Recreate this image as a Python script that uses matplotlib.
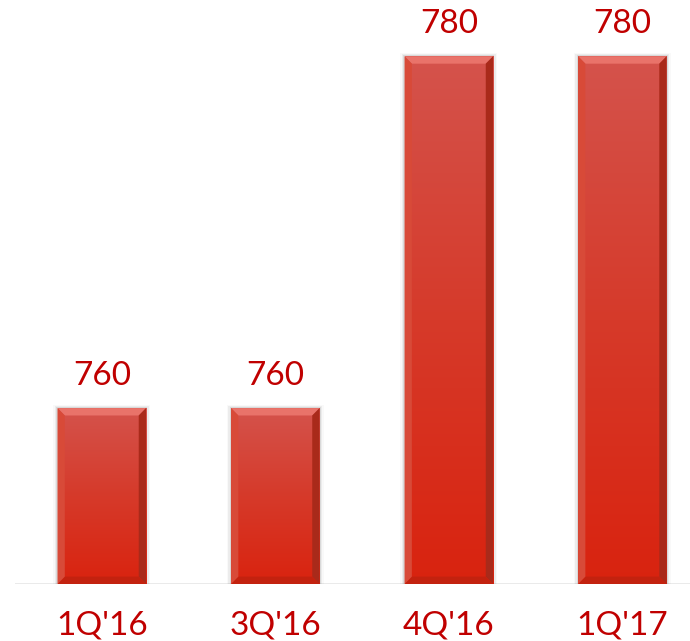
import numpy as np
import matplotlib.pyplot as plt
from matplotlib.patches import Polygon, Rectangle
from matplotlib.colors import LinearSegmentedColormap

categories = ["1Q'16", "3Q'16", "4Q'16", "1Q'17"]
values = [760, 760, 780, 780]

base = 750
txt_color = "#C00000"
plt.rcParams['font.family'] = ['Lato', 'DejaVu Sans']

fig = plt.figure(figsize=(6.9, 6.41), dpi=100)
ax = fig.add_axes([15/690, 57/641, 675/690, 584/641])
ax.set_xlim(-0.5, 3.39)
ax.set_ylim(base, 783.2)
ax.axis('off')

# light baseline
ax.axhline(base, color="#e6e6e6", lw=1.2, zorder=0)

x = np.arange(len(categories))
width = 0.51
bars = ax.bar(x, [v - base for v in values], width=width, bottom=base,
              color="none", edgecolor="none", zorder=2)

grad = LinearSegmentedColormap.from_list("g", ["#d9230f", "#d63a2a", "#d4534c"])
bx = 0.042   # bevel size in x (data units)
by = 0.42    # bevel size in y

for b in bars:
    x0, y0 = b.get_x(), b.get_y()
    w, h = b.get_width(), b.get_height()
    x1, y1 = x0 + w, y0 + h
    # soft shadow
    for k, a in enumerate([0.08, 0.05, 0.025]):
        dx = 0.008 * (k + 1)
        dy = 0.06 * (k + 1)
        ax.add_patch(Rectangle((x0 - dx, y0 - dy), w + 2 * dx, h + 2 * dy,
                               color="black", alpha=a, lw=0, zorder=1))
    im = ax.imshow(np.linspace(0, 1, 256).reshape(-1, 1), cmap=grad,
                   extent=[x0, x1, y0, y1], aspect='auto', origin='lower', zorder=2)
    im.set_clip_path(b)
    # bevels
    ax.add_patch(Polygon([(x0, y1), (x1, y1), (x1 - bx, y1 - by), (x0 + bx, y1 - by)],
                         color="#e9736a", lw=0, zorder=3))
    ax.add_patch(Polygon([(x1, y1), (x1, y0), (x1 - bx, y0 + by), (x1 - bx, y1 - by)],
                         color="#a92a1a", lw=0, zorder=3))
    ax.add_patch(Polygon([(x0, y0), (x1, y0), (x1 - bx, y0 + by), (x0 + bx, y0 + by)],
                         color="#c3220f", lw=0, zorder=3))
    ax.add_patch(Polygon([(x0, y0), (x0, y1), (x0 + bx, y1 - by), (x0 + bx, y0 + by)],
                         color="#d84a38", lw=0, zorder=3))
    ax.text(b.get_x() + w / 2, y1 + 1.85, f"{y1:.0f}", ha='center', va='center',
            fontsize=24, color=txt_color)

for xi, c in zip(x, categories):
    ax.text(xi, base - 2.35, c, ha='center', va='center', fontsize=24,
            color=txt_color, clip_on=False)

fig.savefig("out.png", dpi=100)
